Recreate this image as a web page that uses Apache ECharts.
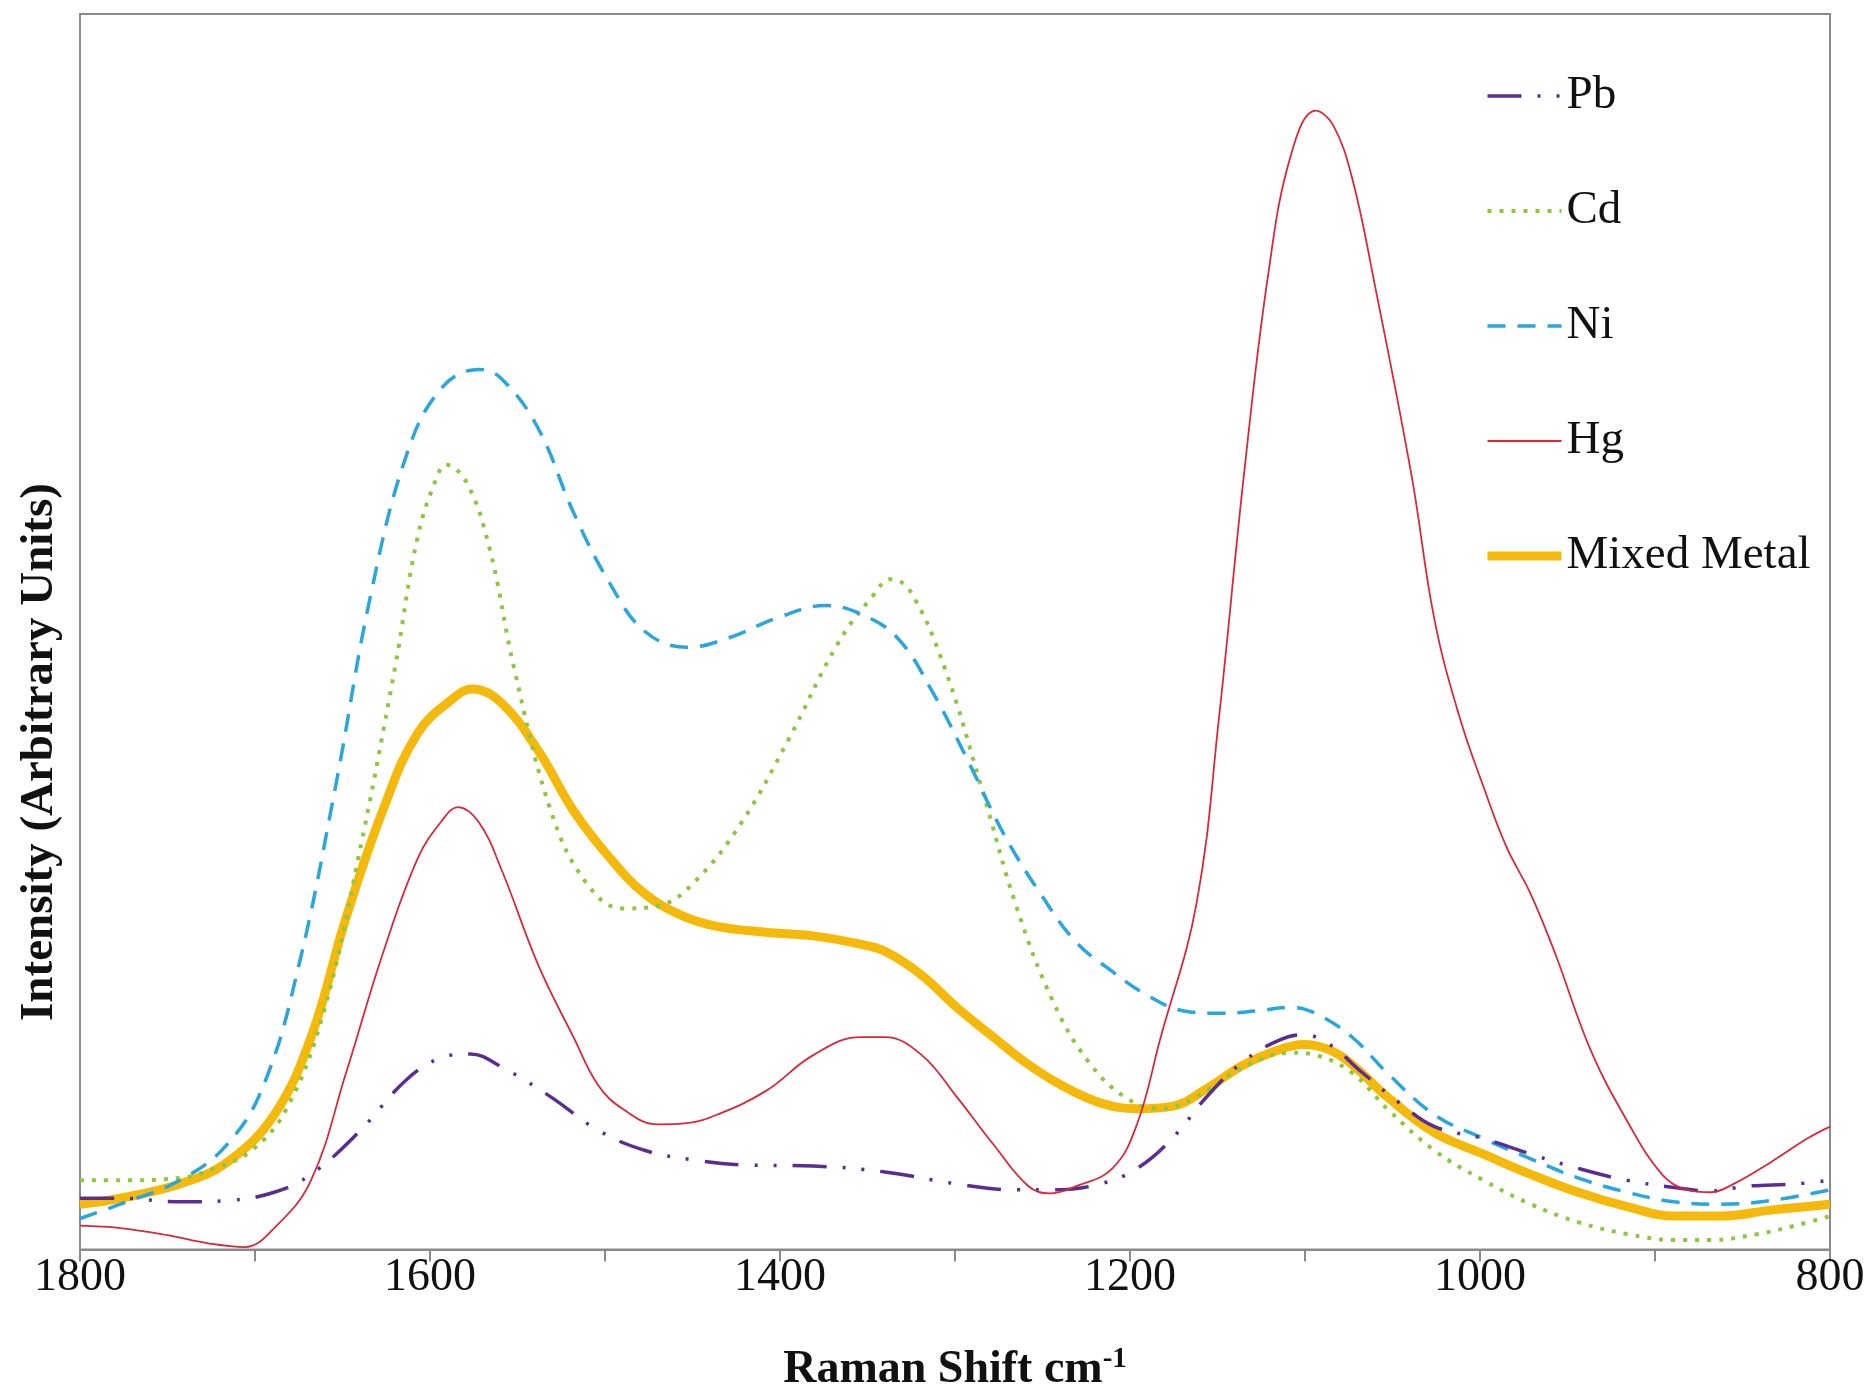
<!DOCTYPE html>
<html>
<head>
<meta charset="utf-8">
<script src="https://cdn.jsdelivr.net/npm/echarts@6/dist/echarts.min.js"></script>
<style>
html,body{margin:0;padding:0;background:#fff;}
#chart{width:1875px;height:1398px;}
</style>
</head>
<body>
<div id="chart"></div>
<script>
// Raman shift (cm-1) and intensity (arbitrary units)
const pbX = [1800,1777,1743,1716,1689,1668,1641,1613,1593,1577,1559,1531,1504,1477,1449,1422,1381,1340,1299,1265,1244,1217,1196,1176,1155,1135,1114,1101,1087,1067,1046,1026,998,971,944,916,889,868,848,820,800];
const pbY = [43,43,40,41,48,63,98,143,161,164,153,128,100,83,75,71,70,65,55,50,50,55,68,93,130,158,176,180,173,148,123,103,93,80,68,58,52,49,53,55,58];

const cdX = [1800,1777,1743,1723,1702,1682,1661,1641,1620,1607,1596,1591,1579,1566,1552,1531,1511,1490,1470,1449,1422,1395,1367,1347,1337,1326,1306,1285,1265,1244,1224,1203,1183,1162,1135,1108,1094,1073,1053,1026,998,971,944,916,889,868,841,820,800];
const cdY = [58,58,60,68,83,118,198,328,488,598,648,658,643,588,488,368,308,286,288,308,358,428,508,548,562,553,488,388,288,208,158,128,118,128,153,165,163,148,118,83,58,38,23,13,8,8,13,20,28];

const niX = [1800,1777,1743,1716,1695,1675,1654,1634,1613,1593,1572,1559,1538,1518,1497,1477,1453,1429,1401,1374,1354,1333,1313,1292,1272,1251,1231,1210,1190,1169,1149,1128,1108,1094,1073,1053,1026,998,971,944,916,889,862,834,800];
const niY = [26,38,58,88,138,238,388,548,668,723,738,730,688,618,558,518,505,513,530,540,533,513,468,408,348,298,258,233,213,200,198,200,203,198,178,148,113,93,76,60,48,40,38,41,50];

const hgX = [1800,1777,1750,1726,1706,1689,1668,1648,1627,1607,1593,1584,1572,1559,1538,1518,1504,1490,1470,1453,1436,1408,1381,1354,1340,1319,1299,1278,1258,1246,1231,1210,1196,1183,1162,1149,1135,1121,1108,1094,1084,1073,1060,1039,1026,1012,998,985,971,957,937,916,896,882,868,855,834,813,800];
const hgY = [20,18,12,5,2,18,58,148,248,328,360,371,358,318,238,178,138,118,105,106,113,133,163,178,178,163,128,88,53,47,53,68,105,175,290,448,648,818,918,955,943,898,808,648,528,448,388,338,298,248,168,108,63,50,48,55,73,93,103];

const mixX = [1800,1777,1743,1716,1689,1668,1648,1627,1607,1586,1576,1559,1538,1518,1497,1477,1456,1436,1408,1381,1354,1340,1319,1299,1278,1258,1237,1217,1196,1176,1155,1135,1114,1101,1087,1073,1053,1026,998,971,944,916,889,862,834,800];
const mixY = [38,43,55,73,113,178,278,368,433,463,470,458,418,368,328,298,280,271,266,263,256,250,230,203,178,155,136,123,118,120,136,155,168,172,168,155,128,98,80,63,48,36,28,28,33,38];

const seriesNames = ['Pb','Cd','Ni','Hg','Mixed Metal'];
const xTicks = [1800,1600,1400,1200,1000,800];

function pairs(xs, ys){ return xs.map((x,i)=>[x, ys[i]]); }

const chart = echarts.init(document.getElementById('chart'));
const serif = 'Liberation Serif, Times New Roman, serif';
const frame = '#8a8a8a';

const styles = {
  'Pb':{color:'#5a2d91',width:3.5,type:[34,16,3,16,3,16]},
  'Cd':{color:'#8dc63f',width:4,type:[4,8]},
  'Ni':{color:'#2aa6dc',width:3.5,type:[18,12]},
  'Hg':{color:'#d42a3c',width:1.8,type:'solid'},
  'Mixed Metal':{color:'#f5b90c',width:9,type:'solid'}
};

chart.setOption({
  animation:false,
  backgroundColor:'#fff',
  grid:{left:80,right:45,top:14,bottom:145,show:true,borderColor:frame,borderWidth:2,backgroundColor:'transparent'},
  legend:{
    orient:'vertical', left:1478, top:66,
    itemWidth:74, itemHeight:2, itemGap:65,
    itemStyle:{opacity:0},
    data:seriesNames.map(n=>({name:n, itemStyle:{opacity:0}, lineStyle:{width:styles[n].width, type:styles[n].type, color:styles[n].color}})),
    textStyle:{fontFamily:serif,fontSize:47,lineHeight:50,color:'#111'}
  },
  xAxis:{
    type:'value', inverse:true, min:800, max:1800, interval:100,
    axisLine:{show:true,lineStyle:{color:frame,width:2}},
    axisTick:{show:true,length:12,lineStyle:{color:frame,width:2}},
    splitLine:{show:false},
    axisLabel:{
      margin:5, fontFamily:serif, fontSize:46, color:'#111',
      formatter:v=> xTicks.indexOf(v)>=0 ? String(v) : ''
    },
    name:'Raman Shift cm{sup|-1}', nameLocation:'middle', nameGap:96,
    nameTextStyle:{fontFamily:serif,fontSize:46,fontWeight:'bold',color:'#111',
      rich:{sup:{fontFamily:serif,fontSize:29,fontWeight:'bold',color:'#111',verticalAlign:'top',padding:[0,0,20,0]}}}
  },
  yAxis:{
    type:'value', min:0, max:1036,
    axisLine:{show:true,lineStyle:{color:frame,width:2}},
    axisTick:{show:false}, axisLabel:{show:false}, splitLine:{show:false}
  },
  graphic:[{
    type:'text', x:40, y:752, rotation:Math.PI/2,
    style:{text:'Intensity (Arbitrary Units)',fontFamily:serif,fontSize:47,fontWeight:'bold',fill:'#111',
      textAlign:'center',textVerticalAlign:'middle'}
  }],
  series:seriesNames.map((n,i)=>{
    const d = [pairs(pbX,pbY),pairs(cdX,cdY),pairs(niX,niY),pairs(hgX,hgY),pairs(mixX,mixY)][i];
    const s = styles[n];
    return {name:n,type:'line',data:d,showSymbol:false,symbol:'none',smooth:0.4,
      z:[4,3,3,5,2][i],
      lineStyle:{color:s.color,width:s.width,type:s.type},itemStyle:{color:s.color}};
  })
});
</script>
</body>
</html>
